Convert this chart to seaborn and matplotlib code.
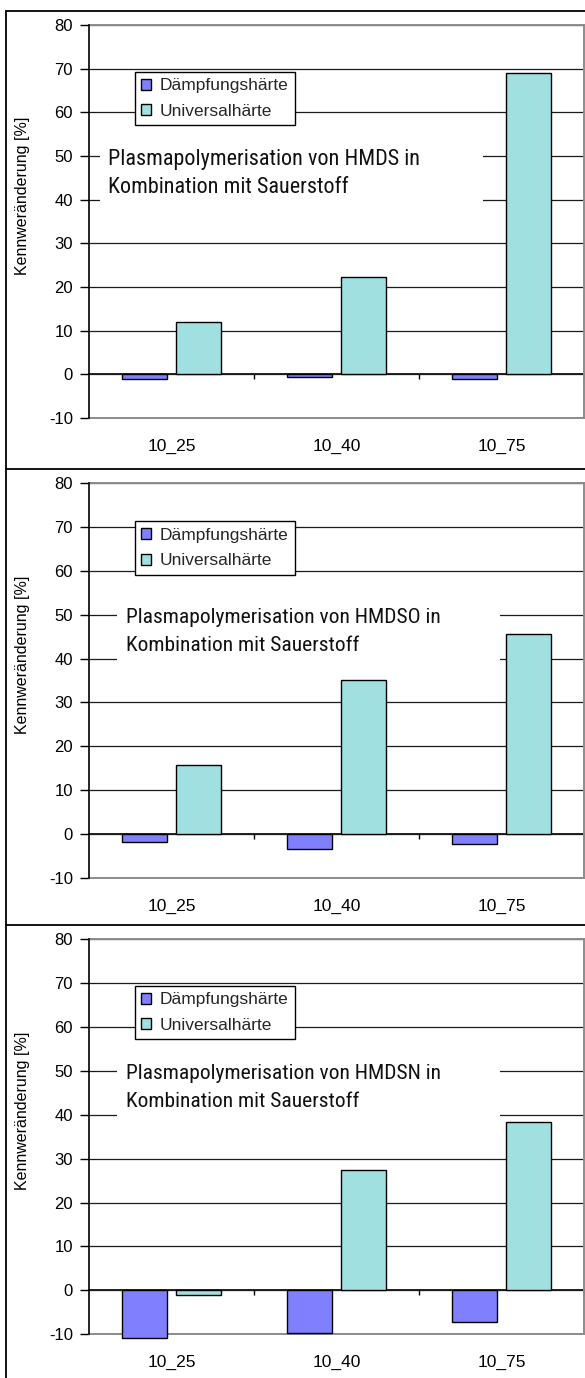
import matplotlib
matplotlib.use("Agg")
import matplotlib.pyplot as plt
from matplotlib import font_manager
from matplotlib.lines import Line2D
from matplotlib.patches import Rectangle
import pandas as pd
import seaborn as sns

# ---- data -------------------------------------------------------------
proben = ["10_25", "10_40", "10_75"]
kenngroessen = ["Dämpfungshärte", "Universalhärte"]

daempfung_hmds = [-1.1, -0.5, -1.1]
universal_hmds = [11.9, 22.4, 68.9]

daempfung_hmdso = [-1.8, -3.4, -2.3]
universal_hmdso = [15.8, 35.2, 45.6]

daempfung_hmdsn = [-10.8, -9.6, -7.3]
universal_hmdsn = [-1.0, 27.5, 38.3]

titel_zeile1 = ["Plasmapolymerisation von HMDS in",
                "Plasmapolymerisation von HMDSO in",
                "Plasmapolymerisation von HMDSN in"]
titel_zeile2 = "Kombination mit Sauerstoff"

y_ticks = [-10, 0, 10, 20, 30, 40, 50, 60, 70, 80]
y_label = "Kennweränderung [%]"

farben = ["#8080FF", "#A0E0E0"]

# ---- style ------------------------------------------------------------
sns.set_theme(style="white")
plt.rcParams["font.family"] = ["Liberation Sans", "DejaVu Sans"]
plt.rcParams["axes.unicode_minus"] = False

installed = {f.name for f in font_manager.fontManager.ttflist}
narrow = next((n for n in ["Liberation Sans Narrow", "Arial Narrow",
                           "Roboto Condensed", "Open Sans Condensed"]
               if n in installed), None)
titel_font = [narrow, "DejaVu Sans"] if narrow else ["Liberation Sans", "DejaVu Sans"]

W, H = 585, 1378
fig = plt.figure(figsize=(W / 100, H / 100), dpi=100)
fig.patch.set_facecolor("white")


def px_axes(top, bottom, left=89, right=584):
    return [left / W, 1 - bottom / H, (right - left) / W, (bottom - top) / H]


panels = [
    dict(d=daempfung_hmds, u=universal_hmds, top=25, bottom=418,
         leg_top=47, text_x=108, box_x=100),
    dict(d=daempfung_hmdso, u=universal_hmdso, top=483.3, bottom=877.7,
         leg_top=38, text_x=126, box_x=117),
    dict(d=daempfung_hmdsn, u=universal_hmdsn, top=939, bottom=1334.3,
         leg_top=47, text_x=126, box_x=117),
]

renderer = fig.canvas.get_renderer()

for i, p in enumerate(panels):
    ax = fig.add_axes(px_axes(p["top"], p["bottom"]))
    h_px = p["bottom"] - p["top"]

    df = pd.DataFrame({
        "Probe": proben * 2,
        "Kenngröße": [kenngroessen[0]] * 3 + [kenngroessen[1]] * 3,
        "Wert": list(p["d"]) + list(p["u"]),
    })
    sns.barplot(data=df, x="Probe", y="Wert", hue="Kenngröße",
                hue_order=kenngroessen, order=proben, palette=farben,
                width=0.654, gap=0.165, edgecolor="black", linewidth=1.0,
                saturation=1, ax=ax, legend=True, zorder=3)
    for patch in ax.patches:
        patch.set_clip_on(False)

    ax.set_xlim(-0.5, 2.5)
    ax.set_ylim(-10, 80)
    ax.set_yticks(y_ticks)
    ax.set_xlabel("")
    ax.set_ylabel(y_label, fontsize=11.5, color="black")
    ax.yaxis.set_label_coords(-0.119, 0.565)

    ax.set_axisbelow(True)
    ax.yaxis.grid(True, color="#1a1a1a", linewidth=0.9)
    ax.xaxis.grid(False)

    for side in ["top", "right", "bottom"]:
        ax.spines[side].set_color("#8c8c8c")
        ax.spines[side].set_linewidth(1.4)
    ax.spines["left"].set_color("black")
    ax.spines["left"].set_linewidth(1.2)
    ax.spines["left"].set_zorder(5)

    ax.tick_params(axis="y", direction="out", length=6.5, width=1.0,
                   color="black", pad=5, labelsize=12, labelcolor="black",
                   left=True)
    ax.tick_params(axis="x", length=0, pad=15, labelsize=12.5,
                   labelcolor="black")

    # category axis running along zero
    cat = ax.secondary_xaxis(10 / 90)
    cat.set_xticks([0.5, 1.5, 2.5], labels=["", "", ""])
    cat.tick_params(axis="x", direction="out", length=3.5, width=1.0,
                    color="black")
    for s in cat.spines.values():
        s.set_color("black")
        s.set_linewidth(1.2)

    # legend
    handles, labels = ax.get_legend_handles_labels()
    if ax.get_legend() is not None:
        ax.get_legend().remove()
    leg = ax.legend(handles, labels, loc="upper left",
                    bbox_to_anchor=((135 - 89) / 495, 1 - p["leg_top"] / h_px),
                    frameon=True, fancybox=False, shadow=False,
                    fontsize=12.5, handlelength=0.58, handleheight=0.58,
                    handletextpad=0.5, labelspacing=0.62, borderpad=0.36,
                    borderaxespad=0, framealpha=1)
    leg.get_frame().set_edgecolor("black")
    leg.get_frame().set_linewidth(1.0)
    leg.set_zorder(6)
    for hnd in leg.legend_handles:
        hnd.set_edgecolor("black")
        hnd.set_linewidth(1.0)

    # annotation with white text box
    box_left = (p["box_x"] - 89) / 495
    ax.add_patch(Rectangle((box_left, 1 - 200 / h_px), 383 / 495, 100 / h_px,
                           transform=ax.transAxes, facecolor="white",
                           edgecolor="none", zorder=1.5))
    tx = (p["text_x"] - 89) / 495
    t1 = ax.text(tx, 1 - 140 / h_px, titel_zeile1[i], transform=ax.transAxes,
                 ha="left", va="baseline", fontsize=16, family=titel_font,
                 color="#111111", zorder=4)
    t2 = ax.text(tx, 1 - 168 / h_px, titel_zeile2, transform=ax.transAxes,
                 ha="left", va="baseline", fontsize=16, family=titel_font,
                 color="#111111", zorder=4)
    # scale title font so the first line spans its box width
    target = 313 + (3 if i > 0 else 0)
    w = t1.get_window_extent(renderer).width
    fs = 16 * target / w
    t1.set_fontsize(fs)
    t2.set_fontsize(fs)

# frame lines around the three panels
lw = 1.3
for y in [11, 469, 925]:
    fig.add_artist(Line2D([6 / W, 1], [1 - y / H, 1 - y / H],
                          transform=fig.transFigure, color="black", lw=lw))
fig.add_artist(Line2D([6 / W, 6 / W], [1 - 11 / H, 0],
                      transform=fig.transFigure, color="black", lw=lw))

fig.savefig("out.png", dpi=100, facecolor="white")
